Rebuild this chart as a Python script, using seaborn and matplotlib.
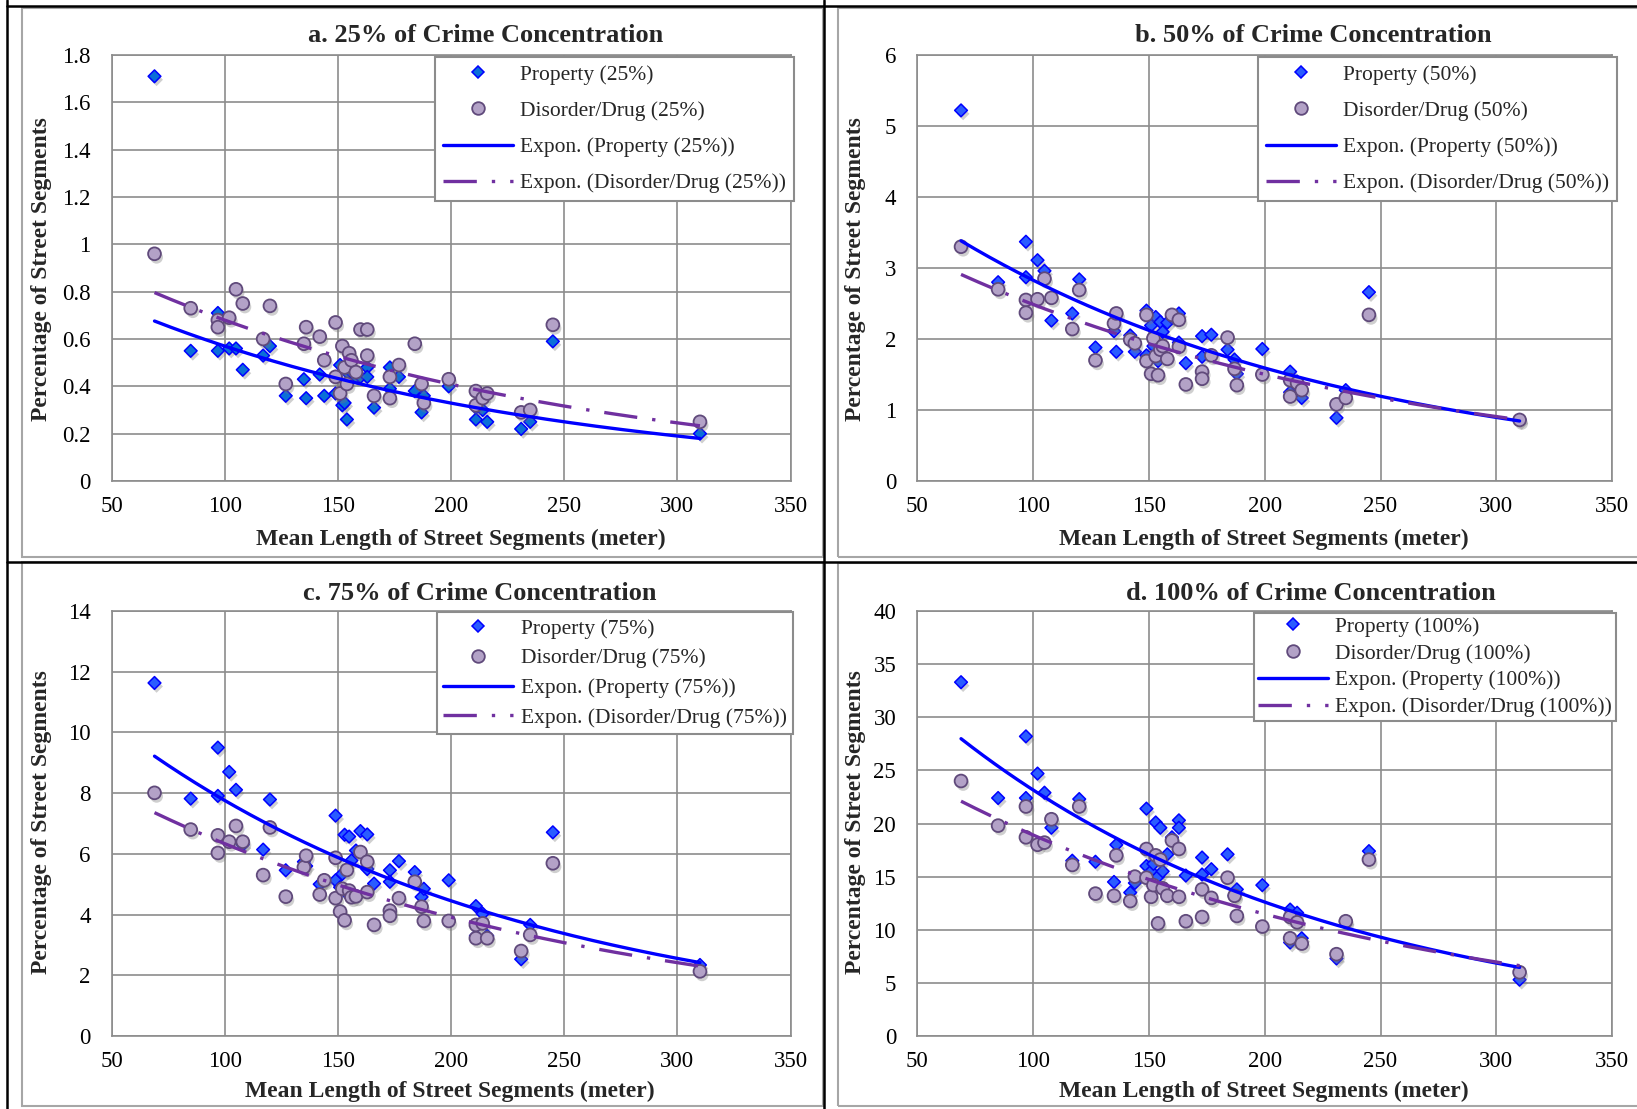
import numpy as np
import matplotlib
matplotlib.use("Agg")
import matplotlib.pyplot as plt
import seaborn as sns
from matplotlib.lines import Line2D
from matplotlib.patches import Rectangle
from matplotlib.ticker import FuncFormatter, MultipleLocator
import matplotlib.patheffects as pe

# ---------------- data ----------------
mean_length = [69, 85, 97, 97, 102, 105, 108, 117, 120, 127,
               135, 136, 142, 144, 149, 149, 151, 152, 153, 154,
               155, 156, 158, 160, 163, 163, 166, 173, 173, 177,
               184, 187, 188, 199, 211, 211, 214, 216, 231, 235,
               245, 310]

property_25 = [1.71, 0.55, 0.71, 0.55, 0.56, 0.56, 0.47, 0.53, 0.57, 0.36,
               0.43, 0.35, 0.45, 0.36, 0.44, 0.37, 0.49, 0.32, 0.33, 0.26,
               0.45, 0.46, 0.44, 0.44, 0.48, 0.44, 0.31, 0.48, 0.39, 0.44,
               0.38, 0.29, 0.36, 0.40, 0.26, 0.31, 0.30, 0.25, 0.22, 0.25,
               0.59, 0.20]
disorder_25 = [0.96, 0.73, 0.68, 0.65, 0.69, 0.81, 0.75, 0.60, 0.74, 0.41,
               0.58, 0.65, 0.61, 0.51, 0.67, 0.44, 0.37, 0.57, 0.48, 0.41,
               0.54, 0.51, 0.46, 0.64, 0.64, 0.53, 0.36, 0.44, 0.35, 0.49,
               0.58, 0.41, 0.33, 0.43, 0.38, 0.32, 0.35, 0.37, 0.29, 0.30,
               0.66, 0.25]

property_50 = [5.22, 2.80, 3.37, 2.87, 3.11, 2.96, 2.26, 2.36, 2.84, 1.88,
               2.11, 1.82, 2.05, 1.82, 2.40, 1.77, 2.19, 1.90, 2.31, 1.69,
               2.24, 2.10, 2.23, 2.30, 2.36, 1.95, 1.66, 2.04, 1.75, 2.06,
               1.85, 1.71, 1.51, 1.86, 1.54, 1.25, 1.40, 1.17, 0.89, 1.28,
               2.66, 0.86]
disorder_50 = [3.30, 2.70, 2.55, 2.37, 2.56, 2.85, 2.58, 2.14, 2.69, 1.70,
               2.22, 2.36, 1.99, 1.94, 2.34, 1.69, 1.51, 2.01, 1.76, 1.49,
               1.85, 1.90, 1.72, 2.34, 2.27, 1.89, 1.36, 1.54, 1.44, 1.77,
               2.02, 1.58, 1.35, 1.50, 1.42, 1.19, 1.38, 1.28, 1.08, 1.17,
               2.34, 0.86]

property_75 = [11.63, 7.82, 9.50, 7.91, 8.70, 8.11, 6.30, 6.14, 7.79, 5.46,
               5.74, 5.60, 5.00, 5.13, 7.26, 5.13, 4.90, 5.34, 6.63, 4.70,
               6.57, 5.78, 6.11, 6.75, 6.64, 5.50, 5.02, 5.46, 5.08, 5.76,
               5.40, 4.58, 4.85, 5.13, 4.28, 3.30, 4.03, 3.30, 2.53, 3.66,
               6.71, 2.34]
disorder_75 = [8.01, 6.80, 6.61, 6.03, 6.40, 6.92, 6.40, 5.30, 6.87, 4.59,
               5.56, 5.94, 4.66, 5.13, 5.87, 4.54, 4.10, 4.85, 3.81, 5.47,
               4.79, 4.57, 4.60, 6.06, 5.74, 4.74, 3.66, 4.13, 3.96, 4.54,
               5.08, 4.26, 3.79, 3.79, 3.66, 3.22, 3.71, 3.22, 2.80, 3.33,
               5.69, 2.13]

property_100 = [33.3, 22.4, 28.2, 22.4, 24.7, 22.9, 19.6, 16.5, 22.3, 16.4,
                14.5, 18.0, 13.5, 14.4, 21.4, 16.0, 15.5, 16.2, 20.1, 15.0,
                19.6, 15.5, 17.1, 18.7, 20.3, 19.6, 15.1, 16.8, 15.2, 15.7,
                17.1, 13.2, 13.8, 14.2, 11.9, 8.8, 11.6, 9.2, 7.3, 10.8,
                17.4, 5.3]
disorder_100 = [24.0, 19.8, 21.6, 18.7, 18.0, 18.2, 20.4, 16.1, 21.6, 13.4,
                13.2, 17.0, 12.7, 15.0, 17.6, 14.9, 13.1, 14.2, 17.0, 10.6,
                16.6, 13.9, 13.2, 18.4, 17.6, 13.1, 10.8, 13.8, 11.2, 13.0,
                14.9, 13.2, 11.3, 10.3, 11.2, 9.2, 10.7, 8.7, 7.7, 10.8,
                16.6, 6.0]

panel_titles = ["a. 25% of Crime Concentration", "b. 50% of Crime Concentration",
                "c. 75% of Crime Concentration", "d. 100% of Crime Concentration"]
levels = ["25%", "50%", "75%", "100%"]
y_max = [1.8, 6, 14, 40]
y_step = [0.2, 1, 2, 5]
x_label = "Mean Length of Street Segments (meter)"
y_label = "Percentage of Street Segments"

# ---------------- style ----------------
W, H = 1637, 1109
sns.set_theme(style="white")
plt.rcParams["font.family"] = ["Liberation Serif", "DejaVu Serif"]

fig = plt.figure(figsize=(W / 100, H / 100), dpi=100)


def fx(px):
    return px / W


def fy(py):
    return 1 - py / H


GRID = "#8C8C8C"
PROP_EDGE = "#0000FF"
PROP_FILL = ["#0B6FD8", "#2A5CFF", "#2A5CFF", "#2A5CFF"]
DIS_FILL = "#B3A2C7"
DIS_EDGE = "#604A7B"
LINE_P = "#0000FF"
LINE_D = "#7030A0"
DASHDOT = (0, (10, 4.5, 1, 4.5))

# axes boxes in pixels: left, top, right, bottom
boxes = [(111.5, 55, 790.5, 481), (917, 55, 1612.3, 481),
         (111.5, 611, 790.5, 1036), (917, 611, 1612.3, 1036)]
title_pos = [(486, 35.5), (1313, 35.5), (480, 593), (1311, 593)]
xlabel_pos = [(461, 539), (1264, 539), (450, 1091), (1264, 1091)]
ylabel_pos = [(42, 269), (856, 269), (42, 822), (856, 822)]
legend_anchor = [(794, 57), (1617, 57), (793, 612), (1616, 613)]
legend_spacing = [0.75, 0.75, 0.45, 0.31]
legend_pad = [0.36, 0.36, 0.3, 0.18]

series = [(property_25, disorder_25), (property_50, disorder_50),
          (property_75, disorder_75), (property_100, disorder_100)]

shadow = [pe.SimplePatchShadow(offset=(1.5, -2.5), shadow_rgbFace="#777777", alpha=0.35),
          pe.Normal()]

x = np.array(mean_length, dtype=float)
xs = np.linspace(x.min(), x.max(), 200)

for i in range(4):
    l, t, r, b = boxes[i]
    ax = fig.add_axes([fx(l), fy(b), (r - l) / W, (b - t) / H])
    prop, dis = series[i]

    sns.scatterplot(x=mean_length, y=prop, marker="D", s=42, color=PROP_FILL[i],
                    edgecolor=PROP_EDGE, linewidth=1.1, ax=ax, zorder=3, legend=False)
    sns.scatterplot(x=mean_length, y=dis, marker="o", s=85, color=DIS_FILL,
                    edgecolor=DIS_EDGE, linewidth=1.3, ax=ax, zorder=3, legend=False)
    for coll in ax.collections:
        coll.set_path_effects(shadow)

    # exponential trend lines (least squares on log scale)
    bp, ap = np.polyfit(x, np.log(prop), 1)
    bd, ad = np.polyfit(x, np.log(dis), 1)
    sns.lineplot(x=xs, y=np.exp(ap + bp * xs), ax=ax, color=LINE_P, lw=2.4, zorder=5)
    sns.lineplot(x=xs, y=np.exp(ad + bd * xs), ax=ax, color=LINE_D, lw=2.4,
                 linestyle=DASHDOT, zorder=5)

    ax.set_xlim(50, 350)
    ax.set_ylim(0, y_max[i])
    ax.xaxis.set_major_locator(MultipleLocator(50))
    ax.yaxis.set_major_locator(MultipleLocator(y_step[i]))
    ax.yaxis.set_major_formatter(FuncFormatter(lambda v, p: f"{v:g}"))
    ax.grid(True, color=GRID, lw=1.2, zorder=0)
    ax.set_axisbelow(True)
    for sp in ax.spines.values():
        sp.set_color(GRID)
        sp.set_linewidth(1.2)
        sp.set_visible(True)
    ax.tick_params(axis="both", length=0, labelsize=16.5, colors="black")
    ax.tick_params(axis="x", pad=11)
    ax.tick_params(axis="y", pad=15)
    ax.set_xlabel("")
    ax.set_ylabel("")

    handles = [
        Line2D([], [], marker="D", ls="none", ms=6.4, mfc=PROP_FILL[i], mec=PROP_EDGE, mew=1.1),
        Line2D([], [], marker="o", ls="none", ms=9.1, mfc=DIS_FILL, mec=DIS_EDGE, mew=1.3),
        Line2D([], [], color=LINE_P, lw=2.4),
        Line2D([], [], color=LINE_D, lw=2.4, linestyle=DASHDOT),
    ]
    lv = levels[i]
    labels = [f"Property ({lv})", f"Disorder/Drug ({lv})",
              f"Expon. (Property ({lv}))", f"Expon. (Disorder/Drug ({lv}))"]
    axr, ayt = legend_anchor[i]
    leg = ax.legend(handles, labels, loc="upper right",
                    bbox_to_anchor=(fx(axr), fy(ayt)), bbox_transform=fig.transFigure,
                    borderaxespad=0, fontsize=15.5, handlelength=3.25, handletextpad=0.33,
                    labelspacing=legend_spacing[i], borderpad=legend_pad[i],
                    fancybox=False, framealpha=1, edgecolor=GRID, facecolor="white")
    leg.get_frame().set_linewidth(1.5)
    leg.set_zorder(10)

    tx, ty = title_pos[i]
    fig.text(fx(tx), fy(ty), panel_titles[i], ha="center", va="center",
             fontsize=19, fontweight="bold")
    lx, ly = xlabel_pos[i]
    fig.text(fx(lx), fy(ly), x_label, ha="center", va="center",
             fontsize=17, fontweight="bold")
    yx, yy = ylabel_pos[i]
    fig.text(fx(yx), fy(yy), y_label, ha="center", va="center", rotation=90,
             fontsize=17, fontweight="bold")

# chart-area borders (light gray) and panel separators (black)
for (x0, y0, x1, y1) in [(22, 8, 823, 557), (838, 8, 1645, 557),
                         (22, 562, 823, 1106), (838, 563, 1645, 1106)]:
    fig.add_artist(Rectangle((fx(x0), fy(y1)), (x1 - x0) / W, (y1 - y0) / H,
                             transform=fig.transFigure, fill=False,
                             edgecolor="#A6A6A6", lw=1.5))
for seg in [((7, 0), (7, H)), ((824, 0), (824, H)), ((7, 6), (W, 6)), ((7, 562), (W, 562))]:
    (ax0, ay0), (ax1, ay1) = seg
    fig.add_artist(Line2D([fx(ax0), fx(ax1)], [fy(ay0), fy(ay1)],
                          transform=fig.transFigure, color="black", lw=1.8))

fig.savefig("out.png", dpi=100, facecolor="white")
